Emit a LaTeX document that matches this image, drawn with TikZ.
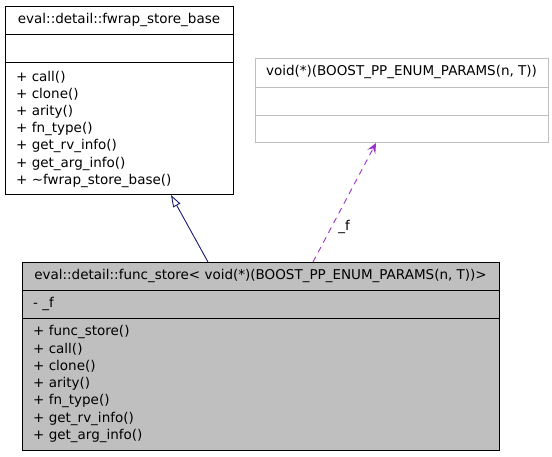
\documentclass[tikz,border=0pt]{standalone}
\usepackage{fontspec}
\setmainfont{DejaVu Sans}
\usetikzlibrary{arrows.meta,calc}
\definecolor{navyline}{HTML}{191970}
\definecolor{orchid}{HTML}{9A32CD}
\definecolor{boxgray}{HTML}{BFBFBF}
\definecolor{lightborder}{HTML}{BFBFBF}
\begin{document}
\begin{tikzpicture}[x=1pt,y=-1pt,
  every node/.style={font=\fontsize{13.5}{15}\selectfont, inner sep=0pt},
  lbl/.style={anchor=west},
  umlbox/.style={draw=black, line width=1pt},
  ghostbox/.style={draw=lightborder, line width=1pt, fill=white},
  inherit/.style={draw=navyline, line width=0.9pt, -{Triangle[open, length=12pt, width=8pt]}},
  use/.style={draw=orchid, line width=0.9pt, dash pattern=on 6pt off 5pt, -{Stealth[length=10pt, width=9pt, inset=4pt]}}]
\useasboundingbox (0,0) rectangle (552,456);
% base class
\node[umlbox, minimum width=228pt, minimum height=188pt, anchor=north west] (base) at (5,6) {};
\draw[black, line width=1pt] (5,34) -- (233,34) (5,62) -- (233,62);
\node[anchor=center] (basetitle) at (119,20) {eval::detail::fwrap\_store\_base};
\node[lbl] (b1) at (16,77) {+ call()};
\node[lbl] (b2) at (16,94.3) {+ clone()};
\node[lbl] (b3) at (16,111.6) {+ arity()};
\node[lbl] (b4) at (16,128.9) {+ fn\_type()};
\node[lbl] (b5) at (16,146.2) {+ get\_rv\_info()};
\node[lbl] (b6) at (16,163.5) {+ get\_arg\_info()};
\node[lbl] (b7) at (16,180.8) {+ \textasciitilde fwrap\_store\_base()};
% pointer type
\node[ghostbox, minimum width=293pt, minimum height=84pt, anchor=north west] (ptr) at (255,58) {};
\draw[lightborder, line width=1pt] (255,87) -- (548,87) (255,115) -- (548,115);
\node[anchor=center] (ptrtitle) at (401.5,72) {void(*)(BOOST\_PP\_ENUM\_PARAMS(n, T))};
% derived class
\node[umlbox, fill=boxgray, minimum width=477pt, minimum height=188pt, anchor=north west] (fs) at (22,262) {};
\draw[black, line width=1pt] (22,290) -- (499,290) (22,318) -- (499,318);
\node[anchor=center] (fstitle) at (260.5,276) {eval::detail::func\_store< void(*)(BOOST\_PP\_ENUM\_PARAMS(n, T))>};
\node[lbl] (fattr) at (33,304) {- \_f};
\node[lbl] (f1) at (33,332) {+ func\_store()};
\node[lbl] (f2) at (33,349.3) {+ call()};
\node[lbl] (f3) at (33,366.6) {+ clone()};
\node[lbl] (f4) at (33,383.9) {+ arity()};
\node[lbl] (f5) at (33,401.2) {+ fn\_type()};
\node[lbl] (f6) at (33,418.5) {+ get\_rv\_info()};
\node[lbl] (f7) at (33,435.8) {+ get\_arg\_info()};
% connectors
\coordinate (inhS) at ($(fs.north west)+(186,0)$);
\coordinate (inhE) at ($(base.south west)+(166,0)$);
\draw[inherit] (inhS) -- (inhE);
\coordinate (useS) at ($(fs.north west)+(291,0)$);
\coordinate (useE) at ($(ptr.south west)+(121,0)$);
\draw[use] (useS) -- (useE);
\node[anchor=center] (flabel) at (344,227) {\_f};
\end{tikzpicture}
\end{document}
